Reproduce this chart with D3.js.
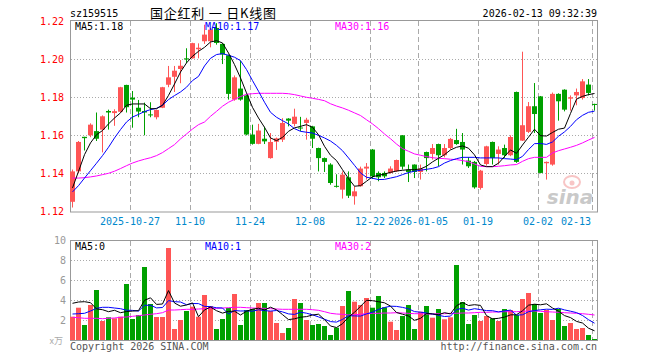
<!DOCTYPE html>
<html>
<head>
<meta charset="utf-8">
<script src="https://cdn.jsdelivr.net/npm/d3@7"></script>
<style>
body { margin: 0; background: #fff; }
svg { display: block; font-family: "DejaVu Sans Mono", "Liberation Mono", monospace; }
</style>
</head>
<body>
<svg width="660" height="360"></svg>
<script>
// trading days shown, 2025-10-13 .. 2026-02-13
var days = [
  "2025-10-13","2025-10-14","2025-10-15","2025-10-16","2025-10-17","2025-10-20","2025-10-21","2025-10-22","2025-10-23","2025-10-24",
  "2025-10-27","2025-10-28","2025-10-29","2025-10-30","2025-10-31","2025-11-03","2025-11-04","2025-11-05","2025-11-06","2025-11-07",
  "2025-11-10","2025-11-11","2025-11-12","2025-11-13","2025-11-14","2025-11-17","2025-11-18","2025-11-19","2025-11-20","2025-11-21",
  "2025-11-24","2025-11-25","2025-11-26","2025-11-27","2025-11-28","2025-12-01","2025-12-02","2025-12-03","2025-12-04","2025-12-05",
  "2025-12-08","2025-12-09","2025-12-10","2025-12-11","2025-12-12","2025-12-15","2025-12-16","2025-12-17","2025-12-18","2025-12-19",
  "2025-12-22","2025-12-23","2025-12-24","2025-12-25","2025-12-26","2025-12-29","2025-12-30","2025-12-31","2026-01-05","2026-01-06",
  "2026-01-07","2026-01-08","2026-01-09","2026-01-12","2026-01-13","2026-01-14","2026-01-15","2026-01-16","2026-01-19","2026-01-20",
  "2026-01-21","2026-01-22","2026-01-23","2026-01-26","2026-01-27","2026-01-28","2026-01-29","2026-01-30","2026-02-02","2026-02-03",
  "2026-02-04","2026-02-05","2026-02-06","2026-02-09","2026-02-10","2026-02-11","2026-02-12","2026-02-13"];

var open = [1.125,1.141,1.1592,1.160,1.1622,1.163,1.1728,1.1717,1.1724,1.1865,
  1.1798,1.1745,1.1728,1.171,1.1695,1.1745,1.1866,1.1908,1.1949,1.2005,
  1.2005,1.2053,1.2095,1.2095,1.2165,1.2081,1.2021,1.1788,1.1846,1.181,
  1.1604,1.1555,1.1582,1.148,1.1566,1.1577,1.1688,1.166,1.1641,1.1665,
  1.1647,1.1533,1.148,1.1446,1.1334,1.1314,1.1379,1.1279,1.1332,1.1425,
  1.1525,1.1402,1.1402,1.1402,1.1411,1.16,1.1419,1.1446,1.1407,1.1512,
  1.1502,1.1554,1.1495,1.1533,1.1575,1.1565,1.1467,1.146,1.1323,1.1449,
  1.1565,1.1502,1.1533,1.1495,1.1828,1.1572,1.1618,1.1753,1.1805,1.1453,
  1.1446,1.1818,1.184,1.1793,1.181,1.1796,1.1867,1.1765];
var high = [1.142,1.157,1.1592,1.1663,1.172,1.1705,1.1735,1.1737,1.1855,1.1866,
  1.1833,1.1786,1.1772,1.1774,1.1735,1.1855,1.1965,1.1965,1.1996,1.2058,
  1.2087,1.2084,1.2182,1.2165,1.219,1.2085,1.2025,1.1915,1.1993,1.1812,
  1.1656,1.166,1.1645,1.1612,1.1588,1.169,1.169,1.174,1.1697,1.1692,
  1.165,1.1535,1.1483,1.1453,1.1395,1.141,1.141,1.1332,1.1435,1.1454,
  1.1528,1.141,1.141,1.1437,1.1472,1.1601,1.1446,1.1447,1.1446,1.1514,
  1.1554,1.1556,1.1554,1.1586,1.1634,1.1612,1.1485,1.1465,1.1418,1.1545,
  1.1567,1.1542,1.1551,1.16,1.183,1.204,1.1775,1.1875,1.1807,1.1462,
  1.1825,1.1821,1.1842,1.181,1.1846,1.1896,1.1896,1.1766];
var low = [1.122,1.140,1.152,1.159,1.157,1.151,1.163,1.165,1.172,1.172,
  1.164,1.1695,1.160,1.1695,1.1684,1.1743,1.1853,1.1828,1.1874,1.198,
  1.2003,1.2005,1.2081,1.2063,1.2077,1.1975,1.1788,1.1782,1.1782,1.160,
  1.1551,1.1553,1.1554,1.1477,1.1523,1.1565,1.1647,1.1647,1.1621,1.1577,
  1.1533,1.141,1.1407,1.134,1.1325,1.1267,1.127,1.1235,1.133,1.1367,
  1.137,1.1358,1.1375,1.1398,1.1407,1.142,1.1354,1.1375,1.1367,1.141,
  1.1472,1.1437,1.1484,1.1525,1.155,1.1446,1.1428,1.1319,1.1314,1.144,
  1.1446,1.1446,1.1481,1.149,1.1455,1.157,1.1612,1.1612,1.14,1.1367,
  1.144,1.1677,1.1726,1.173,1.1758,1.1788,1.181,1.173];
var close = [1.141,1.1565,1.1585,1.1656,1.1582,1.170,1.172,1.1727,1.1853,1.1748,
  1.1788,1.1725,1.172,1.1706,1.1733,1.1853,1.1905,1.194,1.1966,1.1999,
  1.2085,1.2061,1.213,1.2156,1.2086,1.2025,1.1818,1.1905,1.1788,1.1604,
  1.1555,1.1625,1.1568,1.1565,1.1584,1.1665,1.1677,1.1698,1.1638,1.1682,
  1.1582,1.148,1.146,1.1349,1.1331,1.1393,1.1282,1.1305,1.1425,1.1435,
  1.1384,1.1379,1.1384,1.1425,1.147,1.1435,1.1407,1.1407,1.1425,1.148,
  1.1533,1.1495,1.1533,1.1581,1.1554,1.1525,1.1437,1.1326,1.1414,1.1542,
  1.1481,1.1525,1.1495,1.1591,1.146,1.1653,1.1753,1.1712,1.1402,1.146,
  1.1818,1.1779,1.1735,1.18,1.1828,1.1884,1.1823,1.1763];

// volume, unit 万
var vol = [2.33,3.23,1.5,3.5,5.0,1.9,2.27,2.17,2.33,5.6,
  2.1,2.5,7.3,3.6,2.3,2.3,9.2,1.1,2.0,2.9,
  3.33,2.33,4.5,3.4,1.1,2.1,3.2,4.6,1.5,3.0,
  3.1,3.7,3.7,2.9,1.7,0.7,1.2,4.1,3.7,2.0,
  1.5,1.6,1.4,0.5,1.23,3.4,4.9,3.83,3.5,4.2,
  3.23,4.4,3.27,1.83,1.0,2.4,3.5,1.1,2.83,3.4,
  2.23,3.1,2.07,2.27,7.5,3.8,1.6,2.5,1.9,2.4,
  2.17,1.9,3.1,3.0,2.5,4.1,4.7,3.6,2.7,3.0,
  2.0,3.1,1.4,1.7,1.1,1.2,0.5,0.1];

var ma5 = [1.1323,1.141,1.1498,1.156,1.1603,1.1625,1.166,1.1691,1.1718,1.1758,
  1.1765,1.1765,1.1765,1.174,1.174,1.1758,1.181,1.187,1.1933,1.1981,
  1.2016,1.2042,1.2063,1.2091,1.2098,1.2086,1.2033,1.1972,1.1902,1.1823,
  1.1747,1.1691,1.1642,1.1586,1.1572,1.1589,1.1621,1.1639,1.1647,1.1656,
  1.1642,1.1603,1.1542,1.1495,1.1467,1.1419,1.1372,1.1332,1.1335,1.1358,
  1.1382,1.1389,1.1396,1.1405,1.1412,1.1416,1.1419,1.1419,1.1423,1.1437,
  1.146,1.1479,1.1498,1.1523,1.1537,1.1544,1.1532,1.1497,1.1444,1.1435,
  1.1435,1.1453,1.1488,1.1523,1.1505,1.1549,1.159,1.1632,1.1598,1.1596,
  1.1615,1.1632,1.1638,1.1715,1.179,1.1805,1.1814,1.182];
var ma10 = [1.1302,1.1335,1.1375,1.1414,1.1453,1.1493,1.1537,1.1586,1.163,1.167,
  1.1696,1.171,1.1725,1.1735,1.1742,1.1758,1.1788,1.1809,1.1828,1.1853,
  1.1888,1.191,1.1965,1.2005,1.2025,1.203,1.2021,1.2011,1.1993,1.1946,
  1.1888,1.1832,1.1774,1.1721,1.1695,1.1677,1.166,1.1635,1.1621,1.1616,
  1.1612,1.16,1.1586,1.157,1.1547,1.1519,1.1481,1.1442,1.1402,1.1379,
  1.1374,1.1367,1.1368,1.1375,1.1382,1.1393,1.1404,1.1411,1.1416,1.1421,
  1.1426,1.1435,1.1454,1.1467,1.1477,1.1484,1.1484,1.1484,1.1481,1.1481,
  1.1481,1.1481,1.1477,1.1475,1.1472,1.1489,1.1525,1.1556,1.1557,1.1552,
  1.1565,1.1595,1.1618,1.1647,1.1682,1.1705,1.1721,1.1727];
var ma30 = [1.1375,1.1375,1.1377,1.1381,1.1386,1.1393,1.14,1.1411,1.1425,1.144,
  1.1454,1.1465,1.1474,1.1482,1.1493,1.1509,1.153,1.1551,1.1581,1.1607,
  1.1633,1.1656,1.167,1.17,1.1726,1.1753,1.1774,1.1789,1.1804,1.1816,
  1.1819,1.1821,1.1821,1.1821,1.1821,1.1821,1.1819,1.1814,1.1807,1.18,
  1.1795,1.1789,1.1782,1.1766,1.1754,1.1744,1.1732,1.1718,1.1704,1.1682,
  1.166,1.1635,1.1607,1.1582,1.1554,1.153,1.1516,1.1502,1.1495,1.1488,
  1.1482,1.1479,1.1477,1.1474,1.1472,1.1467,1.1461,1.1449,1.1437,1.1435,
  1.1435,1.1437,1.144,1.1444,1.1446,1.1463,1.1477,1.1484,1.1484,1.1484,
  1.1507,1.1519,1.1528,1.1537,1.1547,1.156,1.1575,1.1589];

var vma5 = [3.67,3.8,3.83,3.73,3.11,3.03,2.83,2.97,2.73,2.85,
  2.89,2.94,3.97,4.22,3.56,3.6,4.94,3.7,3.38,3.5,
  3.71,2.33,3.01,3.29,2.93,2.69,2.86,2.88,2.5,2.88,
  3.08,3.18,3.0,3.28,3.02,2.54,2.04,2.12,2.28,2.34,
  2.5,2.58,2.04,1.4,1.25,1.63,2.29,2.77,3.37,3.97,
  3.93,3.83,3.72,3.39,2.75,2.58,2.4,1.97,2.17,2.65,
  2.61,2.53,2.73,2.61,3.43,3.75,3.45,3.53,3.46,2.44,
  2.11,2.17,2.29,2.51,2.53,2.92,3.48,3.58,3.52,3.62,
  3.2,2.88,2.44,2.24,1.86,1.7,1.18,0.92];
var vma10 = [2.6,2.63,2.67,2.9,3.17,3.27,3.27,3.2,3.13,2.98,
  2.96,2.89,3.47,3.48,3.21,3.25,3.94,3.83,3.8,3.53,
  3.65,3.64,3.36,3.34,3.22,3.2,2.6,2.95,2.9,2.91,
  2.88,3.02,2.94,2.89,2.95,2.81,2.61,2.56,2.78,2.68,
  2.52,2.31,2.08,1.84,1.79,2.06,2.43,2.41,2.39,2.61,
  2.78,3.06,3.25,3.38,3.36,3.26,3.12,2.84,2.78,2.7,
  2.6,2.47,2.35,2.39,3.04,3.18,2.99,3.13,3.04,2.94,
  2.93,2.81,2.91,2.99,2.49,2.52,2.83,2.94,3.02,3.08,
  3.06,3.18,3.01,2.88,2.74,2.45,2.03,1.68];
var vma30 = [2.27,2.23,2.17,2.17,2.17,2.13,2.17,2.2,2.27,2.3,
  2.37,2.43,2.5,2.57,2.63,2.73,3.0,3.0,3.03,3.07,
  3.07,3.1,3.13,3.17,3.17,3.2,3.23,3.27,3.27,3.23,
  3.2,3.17,3.17,3.13,3.1,3.07,3.07,3.07,3.07,3.07,
  3.03,2.97,2.83,2.67,2.6,2.57,2.5,2.53,2.57,2.63,
  2.67,2.67,2.7,2.7,2.73,2.7,2.67,2.63,2.63,2.6,
  2.6,2.63,2.63,2.67,2.67,2.7,2.7,2.73,2.77,2.77,
  2.8,2.8,2.83,2.83,2.83,2.87,2.9,2.9,2.87,2.83,
  2.8,2.77,2.73,2.7,2.67,2.63,2.57,2.5];

var tickDays = ["2025-10-27","2025-11-10","2025-11-24","2025-12-08","2025-12-22","2026-01-05","2026-01-19","2026-02-02","2026-02-13"];
var tickText = ["2025-10-27","11-10","11-24","12-08","12-22","2026-01-05","01-19","02-02","02-13"];
var priceTicks = [1.12, 1.14, 1.16, 1.18, 1.20, 1.22];
var volTicks = [2, 4, 6, 8, 10];

var UP = "#ff5555", DOWN = "#00a000";
var GRID = "#aaaaaa";

var svg = d3.select("svg");

// scales
var x = d3.scaleBand().domain(days).range([70, 597]).paddingInner(1 / 6).paddingOuter(0).align(0);
var y = d3.scaleLinear().domain([1.12, 1.22]).range([211.3, 21.3]);
var yv = d3.scaleLinear().domain([0, 10]).range([340, 240]);
var mid = function(i) { return x(days[i]) + 2.5; };

var main = { top: 20, bottom: 211.5 };
var sub = { top: 240, bottom: 340 };

// header
svg.append("text").attr("x", 70).attr("y", 13).attr("dy", "0.35em")
    .style("font-size", "10px").attr("fill", "#000").text("sz159515");
svg.append("text").attr("x", 150).attr("y", 13).attr("dy", "0.36em")
    .style("font-family", "'Noto Sans CJK SC', sans-serif").style("font-size", "13px")
    .attr("textLength", 126).attr("lengthAdjust", "spacing")
    .attr("fill", "#000").text("国企红利 一 日K线图");
svg.append("text").attr("x", 597).attr("y", 13).attr("dy", "0.35em").attr("text-anchor", "end")
    .style("font-size", "10px").attr("fill", "#000").text("2026-02-13 09:32:39");

// grids, both panels
function hgrid(vals, scale) {
    svg.append("g").selectAll("line").data(vals).join("line")
        .attr("x1", 71).attr("x2", 597)
        .attr("y1", function(d) { return Math.round(scale(d)) + 0.5; })
        .attr("y2", function(d) { return Math.round(scale(d)) + 0.5; })
        .attr("stroke", GRID).attr("stroke-dasharray", "1,2");
}
hgrid([1.14, 1.16, 1.18, 1.20], y);
hgrid([2, 4, 6, 8], yv);

[main, sub].forEach(function(p) {
    svg.append("g").selectAll("line").data(tickDays).join("line")
        .attr("x1", function(d) { return x(d) + 0.5; })
        .attr("x2", function(d) { return x(d) + 0.5; })
        .attr("y1", p.top + 1).attr("y2", p.bottom)
        .attr("stroke", GRID).attr("stroke-dasharray", "5,3");
});

// frames
[main, sub].forEach(function(p) {
    svg.append("rect").attr("x", 70.5).attr("y", p.top + 0.5)
        .attr("width", 527).attr("height", p.bottom - p.top)
        .attr("fill", "none").attr("stroke", "#999");
});

// candles
var idx = d3.range(days.length);
var color = function(i) { return close[i] >= open[i] ? UP : DOWN; };
var candles = svg.append("g");
candles.selectAll("line").data(idx).join("line")
    .attr("x1", function(i) { return Math.floor(mid(i)) + 0.5; })
    .attr("x2", function(i) { return Math.floor(mid(i)) + 0.5; })
    .attr("y1", function(i) { return y(high[i]); })
    .attr("y2", function(i) { return y(low[i]); })
    .attr("stroke", color);
candles.selectAll("rect").data(idx).join("rect")
    .attr("x", function(i) { return x(days[i]); })
    .attr("width", x.bandwidth())
    .attr("y", function(i) { return y(Math.max(open[i], close[i])); })
    .attr("height", function(i) { return Math.max(1, Math.abs(y(open[i]) - y(close[i]))); })
    .attr("fill", color);

// volume bars
svg.append("g").selectAll("rect").data(idx).join("rect")
    .attr("x", function(i) { return x(days[i]); })
    .attr("width", x.bandwidth())
    .attr("y", function(i) { return yv(vol[i]); })
    .attr("height", function(i) { return yv(0) - yv(vol[i]); })
    .attr("fill", color);

// moving averages
function maLine(vals, scale, col) {
    var line = d3.line().x(function(d, i) { return mid(i); }).y(function(d) { return scale(d); });
    svg.append("path").datum(vals).attr("d", line)
        .attr("fill", "none").attr("stroke", col).attr("stroke-width", 1);
}
maLine(ma30, y, "#ff00ff");
maLine(ma10, y, "#0000ff");
maLine(ma5, y, "#000000");
maLine(vma30, yv, "#ff00ff");
maLine(vma10, yv, "#0000ff");
maLine(vma5, yv, "#000000");

// y axes
var pa = svg.append("g").attr("transform", "translate(70,0)")
    .call(d3.axisLeft(y).tickValues(priceTicks).tickFormat(d3.format(".2f")).tickSize(0).tickPadding(6));
pa.select(".domain").remove();
pa.selectAll("text").attr("fill", "#ff0000").style("font-size", "10px")
    .style("font-family", "'DejaVu Sans Mono', monospace");

var va = svg.append("g").attr("transform", "translate(70,0)")
    .call(d3.axisLeft(yv).tickValues(volTicks).tickFormat(d3.format("d")).tickSize(0).tickPadding(4));
va.select(".domain").remove();
va.selectAll("text").attr("fill", "#999").style("font-size", "10px")
    .style("font-family", "'DejaVu Sans Mono', monospace");
svg.append("text").attr("x", 63).attr("y", 341).attr("dy", "0.35em").attr("text-anchor", "end")
    .style("font-family", "'Noto Sans CJK SC', sans-serif").style("font-size", "9px")
    .attr("fill", "#aaa").text("x万");

// date labels
svg.append("g").selectAll("text").data(tickDays).join("text")
    .attr("x", function(d, i) {
        var w = tickText[i].length * 6;
        return Math.min(x(d), 591 - w / 2);
    })
    .attr("y", 221).attr("dy", "0.35em").attr("text-anchor", "middle")
    .style("font-size", "10px").attr("fill", "#0088cc")
    .text(function(d, i) { return tickText[i]; });

// legends
function legend(yy, items) {
    svg.append("g").selectAll("text").data(items).join("text")
        .attr("x", function(d) { return d[0]; }).attr("y", yy).attr("dy", "0.35em")
        .style("font-size", "10px").attr("fill", function(d) { return d[2]; })
        .text(function(d) { return d[1]; });
}
legend(26, [[75, "MA5:1.18", "#000"], [205, "MA10:1.17", "#0000ff"], [335, "MA30:1.16", "#ff00ff"]]);
legend(246, [[75, "MA5:0", "#000"], [205, "MA10:1", "#0000ff"], [335, "MA30:2", "#ff00ff"]]);

// sina watermark
var wm = svg.append("g").attr("opacity", 0.45);
wm.append("ellipse").attr("cx", 572).attr("cy", 182).attr("rx", 8).attr("ry", 6)
    .attr("fill", "none").attr("stroke", "#f08080").attr("stroke-width", 2);
wm.append("circle").attr("cx", 572).attr("cy", 183).attr("r", 2.5).attr("fill", "#f08080");
wm.append("text").attr("x", 570).attr("y", 204).attr("text-anchor", "middle")
    .style("font-family", "'DejaVu Sans', sans-serif").style("font-size", "20px")
    .style("font-weight", "bold").style("font-style", "italic")
    .attr("fill", "#888").text("sina");

// footer
svg.append("text").attr("x", 70).attr("y", 346).attr("dy", "0.35em")
    .style("font-size", "10px").attr("fill", "#555").text("Copyright 2026 SINA.COM");
svg.append("text").attr("x", 597).attr("y", 346).attr("dy", "0.35em").attr("text-anchor", "end")
    .style("font-size", "10px").attr("fill", "#555").text("http://finance.sina.com.cn");
</script>
</body>
</html>
